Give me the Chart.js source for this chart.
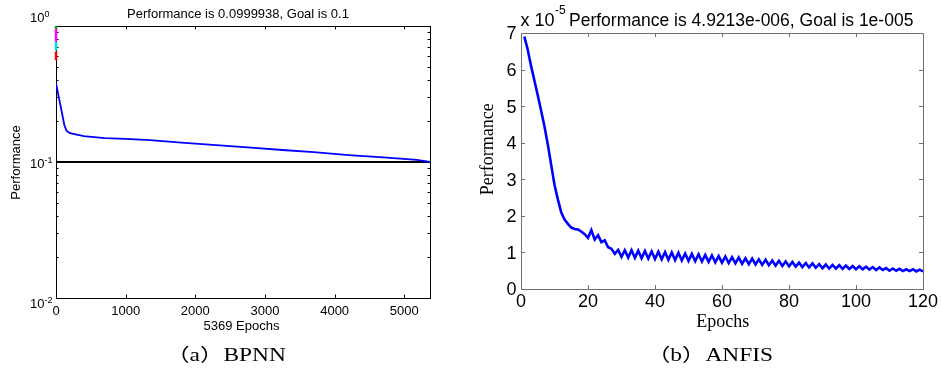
<!DOCTYPE html>
<html><head><meta charset="utf-8">
<script src="https://cdn.jsdelivr.net/npm/chart.js@4.4.1/dist/chart.umd.min.js"></script>
<style>
html,body{margin:0;padding:0;background:#fff;}
#wrap{position:relative;width:941px;height:369px;overflow:hidden;background:#fff;}
.c{position:absolute;top:0;}
</style></head><body>
<div id="wrap">
<div class="c" style="left:0;width:470px;height:369px"><canvas id="a" width="470" height="369"></canvas></div>
<div class="c" style="left:470px;width:471px;height:369px"><canvas id="b" width="471" height="369"></canvas></div>
</div>
<script>
// ---------- (a) BPNN data ----------
const bpEpochs = [0, 40, 80, 120, 150, 200, 400, 700, 1000, 1350, 1800, 2300, 2800, 3250, 3700, 4200, 4700, 5180, 5369];
const bpPerf   = [0.38, 0.30, 0.237, 0.187, 0.170, 0.163, 0.155, 0.150, 0.148, 0.145, 0.139, 0.133, 0.1275, 0.1225, 0.118, 0.1125, 0.108, 0.1035, 0.0999938];
const bpGoal = 0.1;
const bpMaxEpoch = 5369;
const bpStartSegTop    = [1.0, 0.96, 0.77, 0.65];
const bpStartSegBottom = [0.96, 0.77, 0.66, 0.56];
const bpXTicks = [0, 1000, 2000, 3000, 4000, 5000];
const bpYDecades = [0, -1, -2];
const bpTitle = 'Performance is 0.0999938, Goal is 0.1';
const bpXLabel = '5369 Epochs';
const bpYLabel = 'Performance';
const bpCaption = '（a）BPNN';

// ---------- (b) ANFIS data (units of 1e-5) ----------
const anfisEpochs = [1,2,3,4,5,6,7,8,9,10,11,12,13,14,15,16,17,18,19,20,
  21,22,23,24,25,26,27,28,29,30,31,32,33,34,35,36,37,38,39,40,
  41,42,43,44,45,46,47,48,49,50,51,52,53,54,55,56,57,58,59,60,
  61,62,63,64,65,66,67,68,69,70,71,72,73,74,75,76,77,78,79,80,
  81,82,83,84,85,86,87,88,89,90,91,92,93,94,95,96,97,98,99,100,
  101,102,103,104,105,106,107,108,109,110,111,112,113,114,115,116,117,118,119,120];
const anfisPerf = [6.90,6.55,6.10,5.70,5.30,4.88,4.45,3.95,3.40,2.85,
  2.45,2.10,1.90,1.78,1.68,1.64,1.63,1.57,1.50,1.40,
  1.61,1.35,1.47,1.28,1.33,1.14,1.10,0.96,1.07,0.88,
  1.06,0.86,1.06,0.85,1.05,0.84,1.04,0.83,1.03,0.82,
  1.02,0.81,1.01,0.80,1.00,0.79,0.99,0.78,0.97,0.77,
  0.96,0.76,0.95,0.75,0.93,0.74,0.92,0.73,0.90,0.72,
  0.89,0.71,0.87,0.70,0.86,0.69,0.84,0.68,0.83,0.67,
  0.81,0.66,0.80,0.65,0.78,0.64,0.77,0.63,0.75,0.62,
  0.74,0.61,0.72,0.60,0.71,0.59,0.70,0.58,0.68,0.57,
  0.67,0.56,0.66,0.56,0.65,0.55,0.64,0.55,0.63,0.54,
  0.62,0.54,0.61,0.53,0.60,0.52,0.59,0.52,0.57,0.50,
  0.56,0.50,0.55,0.49,0.54,0.49,0.54,0.48,0.53,0.48];
const anfisXTicks = [0, 20, 40, 60, 80, 100, 120];
const anfisYTicks = [0, 1, 2, 3, 4, 5, 6, 7];
const anfisMult = 'x 10';
const anfisMultExp = '-5';
const anfisTitle = 'Performance is 4.9213e-006, Goal is 1e-005';
const anfisXLabel = 'Epochs';
const anfisYLabel = 'Performance';
const anfisCaption = '（b）ANFIS';

const SANS = '"Liberation Sans", Arial, sans-serif';
const SERIF = '"Liberation Serif", "Noto Sans CJK SC", serif';

function pts(xs, ys){ return xs.map((v,i)=>({x:v, y:ys[i]})); }

function caption(ctx, text, cx, base){
  ctx.save();
  ctx.font = '18px ' + SERIF;
  ctx.fillStyle = '#000';
  ctx.textAlign = 'center';
  ctx.textBaseline = 'alphabetic';
  ctx.translate(cx, base);
  ctx.scale(1.3, 1);
  ctx.fillText(text, 0, 0);
  ctx.restore();
}

// ---------- chart (a) ----------
const startColors = ['#00a000', '#ff00ff', '#00e0e0', '#ff0000'];
const dsA = [{
  data: pts(bpEpochs, bpPerf), borderColor:'#0000ff', borderWidth:1.8, pointRadius:0, tension:0
},{
  data: [{x:0,y:bpGoal},{x:bpMaxEpoch,y:bpGoal}], borderColor:'#000', borderWidth:2, pointRadius:0
}];
bpStartSegTop.forEach((t,i)=>{
  dsA.push({data:[{x:0,y:t},{x:0,y:bpStartSegBottom[i]}], borderColor:startColors[i], borderWidth:2.5, pointRadius:0, clip:false});
});

const frameA = {
  id:'frameA',
  beforeDatasetsDraw(chart){
    const {ctx, chartArea:ca, scales:{x, y}} = chart;
    ctx.save();
    ctx.strokeStyle = '#000'; ctx.lineWidth = 1;
    ctx.strokeRect(Math.round(ca.left)+0.5, Math.round(ca.top)+0.5, Math.round(ca.right-ca.left), Math.round(ca.bottom-ca.top));
    ctx.beginPath();
    bpXTicks.forEach(v=>{
      const px = Math.round(x.getPixelForValue(v))+0.5;
      ctx.moveTo(px, ca.bottom); ctx.lineTo(px, ca.bottom-3.5);
      ctx.moveTo(px, ca.top); ctx.lineTo(px, ca.top+3.5);
    });
    bpYDecades.forEach(d=>{
      const py = Math.round(y.getPixelForValue(Math.pow(10,d)))+0.5;
      ctx.moveTo(ca.left, py); ctx.lineTo(ca.left+4, py);
      ctx.moveTo(ca.right, py); ctx.lineTo(ca.right-4, py);
      if (d < 0) {
        for (let m=2; m<=9; m++){
          const pm = Math.round(y.getPixelForValue(m*Math.pow(10,d)))+0.5;
          ctx.moveTo(ca.left, pm); ctx.lineTo(ca.left+2.5, pm);
          ctx.moveTo(ca.right, pm); ctx.lineTo(ca.right-2.5, pm);
        }
      }
    });
    ctx.stroke();
    ctx.restore();
  },
  afterDatasetsDraw(chart){
    const {ctx, chartArea:ca, scales:{x, y}} = chart;
    ctx.save();
    ctx.fillStyle = '#000';
    ctx.font = '13px ' + SANS; ctx.textAlign = 'center'; ctx.textBaseline = 'alphabetic';
    ctx.fillText(bpTitle, 238, 17.5);
    bpXTicks.forEach(v=>{ ctx.fillText(String(v), x.getPixelForValue(v), ca.bottom+17); });
    ctx.fillText(bpXLabel, 241.5, 330);
    ctx.save(); ctx.translate(16, 162.5); ctx.rotate(-Math.PI/2); ctx.textBaseline='middle';
    ctx.fillText(bpYLabel, 0, 0); ctx.restore();
    const shifts = {0:-4.5, '-1':5.5, '-2':10};
    bpYDecades.forEach(d=>{
      const py = y.getPixelForValue(Math.pow(10,d));
      const base = py + shifts[d];
      ctx.font = '13px ' + SANS; ctx.textAlign='right';
      ctx.fillText('10', 44.5, base);
      ctx.font = '9px ' + SANS; ctx.textAlign='left';
      ctx.fillText(String(d), 44.5, base-5);
    });
    caption(ctx, bpCaption, 226, 361);
    ctx.restore();
  }
};

new Chart(document.getElementById('a'), {
  type:'line',
  data:{datasets: dsA},
  options:{
    responsive:false, animation:false, events:[],
    layout:{padding:{left:56, top:26, right:40, bottom:71}},
    plugins:{legend:{display:false}, tooltip:{enabled:false}, title:{display:false}},
    scales:{
      x:{type:'linear', min:0, max:bpMaxEpoch, display:false},
      y:{type:'logarithmic', min:0.01, max:1, display:false}
    }
  },
  plugins:[frameA]
});

// ---------- chart (b) ----------
const frameB = {
  id:'frameB',
  beforeDatasetsDraw(chart){
    const {ctx, chartArea:ca, scales:{x, y}} = chart;
    ctx.save();
    ctx.strokeStyle = '#707070'; ctx.lineWidth = 1;
    ctx.strokeRect(Math.round(ca.left)+0.5, Math.round(ca.top)+0.5, Math.round(ca.right-ca.left), Math.round(ca.bottom-ca.top));
    ctx.beginPath();
    anfisXTicks.forEach(v=>{
      const px = Math.round(x.getPixelForValue(v))+0.5;
      ctx.moveTo(px, ca.bottom); ctx.lineTo(px, ca.bottom-4);
      ctx.moveTo(px, ca.top); ctx.lineTo(px, ca.top+4);
    });
    anfisYTicks.forEach(v=>{
      const py = Math.round(y.getPixelForValue(v))+0.5;
      ctx.moveTo(ca.left, py); ctx.lineTo(ca.left+4, py);
      ctx.moveTo(ca.right, py); ctx.lineTo(ca.right-4, py);
    });
    ctx.stroke();
    ctx.restore();
  },
  afterDatasetsDraw(chart){
    const {ctx, chartArea:ca, scales:{x, y}} = chart;
    ctx.save();
    ctx.fillStyle = '#000';
    ctx.textBaseline = 'alphabetic';
    ctx.font = '18px ' + SANS; ctx.textAlign='left';
    ctx.fillText(anfisMult, 50.5, 26);
    const mw = ctx.measureText(anfisMult).width;
    ctx.font = '12px ' + SANS;
    ctx.fillText(anfisMultExp, 50.5+mw+0.5, 13.5);
    ctx.font = '17.5px ' + SANS;
    ctx.fillText(anfisTitle, 99, 26);
    ctx.font = '18px ' + SANS; ctx.textAlign='right';
    anfisYTicks.forEach(v=>{ ctx.fillText(String(v), 46.5, y.getPixelForValue(v)+6.4); });
    ctx.textAlign='center';
    anfisXTicks.forEach(v=>{ ctx.fillText(String(v), x.getPixelForValue(v), 306.5); });
    ctx.font = '18px ' + SERIF;
    ctx.fillText(anfisXLabel, 252.7, 327);
    ctx.save(); ctx.translate(18.3, 149.3); ctx.rotate(-Math.PI/2); ctx.textBaseline='middle';
    ctx.fillText(anfisYLabel, 0, 0); ctx.restore();
    caption(ctx, anfisCaption, 240, 361);
    ctx.restore();
  }
};

new Chart(document.getElementById('b'), {
  type:'line',
  data:{datasets:[{
    data: pts(anfisEpochs, anfisPerf), borderColor:'#0000ff', borderWidth:2.6, pointRadius:0, tension:0
  }]},
  options:{
    responsive:false, animation:false, events:[],
    layout:{padding:{left:51, top:33, right:18, bottom:80}},
    plugins:{legend:{display:false}, tooltip:{enabled:false}, title:{display:false}},
    scales:{
      x:{type:'linear', min:0, max:120, display:false},
      y:{type:'linear', min:0, max:7, display:false}
    }
  },
  plugins:[frameB]
});
</script>
</body></html>
